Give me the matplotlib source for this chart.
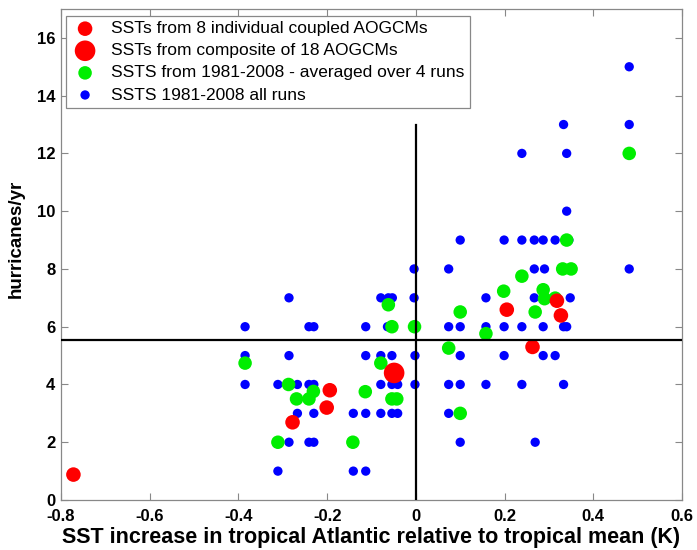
import matplotlib
matplotlib.use("Agg")
import matplotlib.pyplot as plt

plt.rcParams['font.family'] = ['Liberation Sans', 'DejaVu Sans']

# Blue: SSTs 1981-2008 all runs (x, y)
blue_x = [0.481,
          0.333, 0.481,
          0.239, 0.340,
          0.340,
          0.100, 0.199, 0.239, 0.267, 0.287, 0.314, 0.345,
          -0.004, 0.074, 0.267, 0.290, 0.481, 0.333, 0.348,
          -0.286, -0.079, -0.062, -0.053, -0.004, 0.158, 0.267, 0.348,
          -0.385, -0.241, -0.230, -0.113, -0.064, -0.002, 0.074, 0.100, 0.158, 0.199, 0.239, 0.287, 0.333, 0.340,
          -0.385, -0.286, -0.113, -0.079, -0.054, -0.002, 0.100, 0.199, 0.287, 0.314,
          -0.385, -0.311, -0.267, -0.241, -0.230, -0.079, -0.054, -0.041, -0.002, 0.074, 0.100, 0.158, 0.239, 0.333,
          -0.267, -0.230, -0.141, -0.113, -0.079, -0.054, -0.041, 0.074,
          -0.286, -0.241, -0.230, 0.100, 0.269,
          -0.311, -0.141, -0.113]
blue_y = [15,
          13, 13,
          12, 12,
          10,
          9, 9, 9, 9, 9, 9, 9,
          8, 8, 8, 8, 8, 8, 8,
          7, 7, 7, 7, 7, 7, 7, 7,
          6, 6, 6, 6, 6, 6, 6, 6, 6, 6, 6, 6, 6, 6,
          5, 5, 5, 5, 5, 5, 5, 5, 5, 5,
          4, 4, 4, 4, 4, 4, 4, 4, 4, 4, 4, 4, 4, 4,
          3, 3, 3, 3, 3, 3, 3, 3,
          2, 2, 2, 2, 2,
          1, 1, 1]

# Green: SSTs 1981-2008 averaged over 4 runs
green_x = [-0.385, -0.311, -0.287, -0.269, -0.241, -0.231, -0.142, -0.114,
           -0.079, -0.062, -0.054, -0.054, -0.043, -0.003, 0.074, 0.100,
           0.100, 0.158, 0.198, 0.239, 0.269, 0.287, 0.290, 0.314, 0.331,
           0.350, 0.340, 0.481]
green_y = [4.74, 2.0, 4.0, 3.5, 3.5, 3.76, 2.0, 3.75,
           4.74, 6.76, 6.0, 3.5, 3.5, 6.0, 5.26, 6.51,
           3.0, 5.76, 7.23, 7.75, 6.51, 7.28, 6.97, 6.99, 8.0,
           8.0, 9.0, 12.0]

# Red: SSTs from 8 individual coupled AOGCMs
red_x = [-0.772, -0.278, -0.201, -0.194, 0.205, 0.263, 0.318, 0.327]
red_y = [0.88, 2.69, 3.2, 3.8, 6.59, 5.30, 6.9, 6.39]

# Big red: composite of 18 AOGCMs
comp_x = [-0.049]
comp_y = [4.4]

hline_y = 5.55
vline_x = 0.0
vline_top = 13.0

labels = ["SSTs from 8 individual coupled AOGCMs",
          "SSTs from composite of 18 AOGCMs",
          "SSTS from 1981-2008 - averaged over 4 runs",
          "SSTS 1981-2008 all runs"]

xticks = [-0.8, -0.6, -0.4, -0.2, 0, 0.2, 0.4, 0.6]
xticklabels = ["-0.8", "-0.6", "-0.4", "-0.2", "0", "0.2", "0.4", "0.6"]
yticks = [0, 2, 4, 6, 8, 10, 12, 14, 16]

fig = plt.figure(figsize=(6.97, 5.5), dpi=100)
ax = fig.add_axes([61/697, 50/550, 621/697, 491/550])

BLUE = '#0000ff'
GREEN = '#00ee00'
RED = '#ff0000'

h_blue = ax.scatter(blue_x, blue_y, s=45, color=BLUE, edgecolors='none', zorder=2)
h_green = ax.scatter(green_x, green_y, s=95, color=GREEN, edgecolors='none', zorder=3)
h_red = ax.scatter(red_x, red_y, s=110, color=RED, edgecolors='none', zorder=4)
h_comp = ax.scatter(comp_x, comp_y, s=220, color=RED, edgecolors='none', zorder=5)

ax.axhline(hline_y, color='black', lw=1.6, zorder=6)
ax.plot([vline_x, vline_x], [0, vline_top], color='black', lw=1.6, zorder=6)

ax.set_xlim(-0.8, 0.6)
ax.set_ylim(0, 17)
ax.set_xticks(xticks)
ax.set_xticklabels(xticklabels)
ax.set_yticks(yticks)

for sp in ax.spines.values():
    sp.set_color('#888888')
    sp.set_linewidth(0.9)

ax.tick_params(direction='in', top=True, right=True, length=5, width=0.8,
               color='#888888', labelsize=12)
ax.tick_params(axis='x', pad=6.5)
ax.tick_params(axis='y', pad=4)
for lab in ax.get_xticklabels() + ax.get_yticklabels():
    lab.set_fontweight('bold')

ax.set_xlabel("SST increase in tropical Atlantic relative to tropical mean (K)",
              fontsize=15.5, fontweight='bold', labelpad=2.5)
ax.set_ylabel("hurricanes/yr", fontsize=13.5, fontweight='bold')
ax.yaxis.set_label_coords(-0.058, 0.532)

leg = ax.legend([h_red, h_comp, h_green, h_blue], labels,
                loc='upper left', bbox_to_anchor=(0.008, 0.986),
                fontsize=12.5, frameon=True, fancybox=False,
                edgecolor='#888888', framealpha=1, borderaxespad=0,
                handletextpad=0.7, labelspacing=0.4, borderpad=0.3,
                handlelength=1.6, scatterpoints=1)
leg.get_frame().set_linewidth(0.9)

fig.savefig("out.png", dpi=100)
